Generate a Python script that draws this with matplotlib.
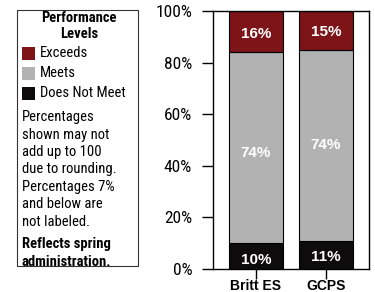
import matplotlib
matplotlib.use('Agg')
import matplotlib.pyplot as plt
from matplotlib.patches import Rectangle
from matplotlib.transforms import Affine2D
import numpy as np

schools = ['Britt ES', 'GCPS']
does_not_meet = [10, 11]
meets = [74, 74]
exceeds = [16, 15]
levels = ['Exceeds', 'Meets', 'Does Not Meet']
colors = {'Exceeds': '#7d1418', 'Meets': '#b2b2b2', 'Does Not Meet': '#0d0b0c'}
note_lines = ['Percentages', 'shown may not', 'add up to 100', 'due to rounding.',
              'Percentages 7%', 'and below are', 'not labeled.']
bold_lines = ['Reflects spring', 'administration.']

plt.rcParams['font.family'] = ['Roboto Condensed', 'Liberation Sans', 'DejaVu Sans']
arial = ['Liberation Sans', 'DejaVu Sans']

fig = plt.figure(figsize=(3.75, 2.92), dpi=100)
# pixel coordinates, origin at top-left
px = Affine2D().scale(1 / 375, -1 / 292).translate(0, 1) + fig.transFigure

ax = fig.add_axes([213 / 375, 23 / 292, 156 / 375, 258 / 292])
x = np.arange(len(schools))
w = 0.77
b1 = ax.bar(x, does_not_meet, w, color=colors['Does Not Meet'], edgecolor='black', linewidth=0.8)
b2 = ax.bar(x, meets, w, bottom=does_not_meet, color=colors['Meets'], edgecolor='black', linewidth=0.8)
bottoms = np.array(does_not_meet) + np.array(meets)
b3 = ax.bar(x, exceeds, w, bottom=bottoms, color=colors['Exceeds'], edgecolor='black', linewidth=0.8)

# small label nudges (data units) to match the original placement
for bars, vals, offs in [(b1, does_not_meet, [-1.5, -0.8]), (b2, meets, [-2, 0]), (b3, exceeds, [-1, -0.5])]:
    for r, v, o in zip(bars, vals, offs):
        if v > 7:
            ax.text(r.get_x() + r.get_width() / 2, r.get_y() + r.get_height() / 2 + o,
                    f'{v}%', ha='center', va='center', color='white', fontsize=11,
                    fontweight='bold', family=arial)

ax.set_xlim(-0.614, 1.614)
ax.set_ylim(0, 100)
ax.set_yticks(range(0, 101, 20))
ax.set_yticklabels([f'{v}%' for v in range(0, 101, 20)], fontsize=12.5)
ax.set_xticks(x)
ax.set_xticklabels(schools, fontsize=10, fontweight='bold', family=arial)
ax.tick_params(axis='y', length=8, width=1, pad=7)
ax.tick_params(axis='x', length=7, width=1, pad=0.5)
for s in ax.spines.values():
    s.set_linewidth(1)

# legend / notes box
fig.add_artist(Rectangle((17, 266), 121, -256, transform=px, fill=False, edgecolor='#333333', linewidth=0.8))
fig.text(79, 18, 'Performance', transform=px, ha='center', va='center', fontsize=10.5, fontweight='bold')
fig.text(79, 34, 'Levels', transform=px, ha='center', va='center', fontsize=10.5, fontweight='bold')
for i, lev in enumerate(levels):
    yc = 53 + i * 20
    fig.add_artist(Rectangle((22, yc + 6.5), 13, -13, transform=px, facecolor=colors[lev], edgecolor='none'))
    fig.text(40, yc, lev, transform=px, ha='left', va='center', fontsize=10.5)
for i, line in enumerate(note_lines):
    fig.text(22, 117 + i * 17.5, line, transform=px, ha='left', va='center', fontsize=10.5)
for i, line in enumerate(bold_lines):
    fig.text(22, 244 + i * 18, line, transform=px, ha='left', va='center', fontsize=10.5, fontweight='bold')

fig.savefig('out.png', dpi=100)
